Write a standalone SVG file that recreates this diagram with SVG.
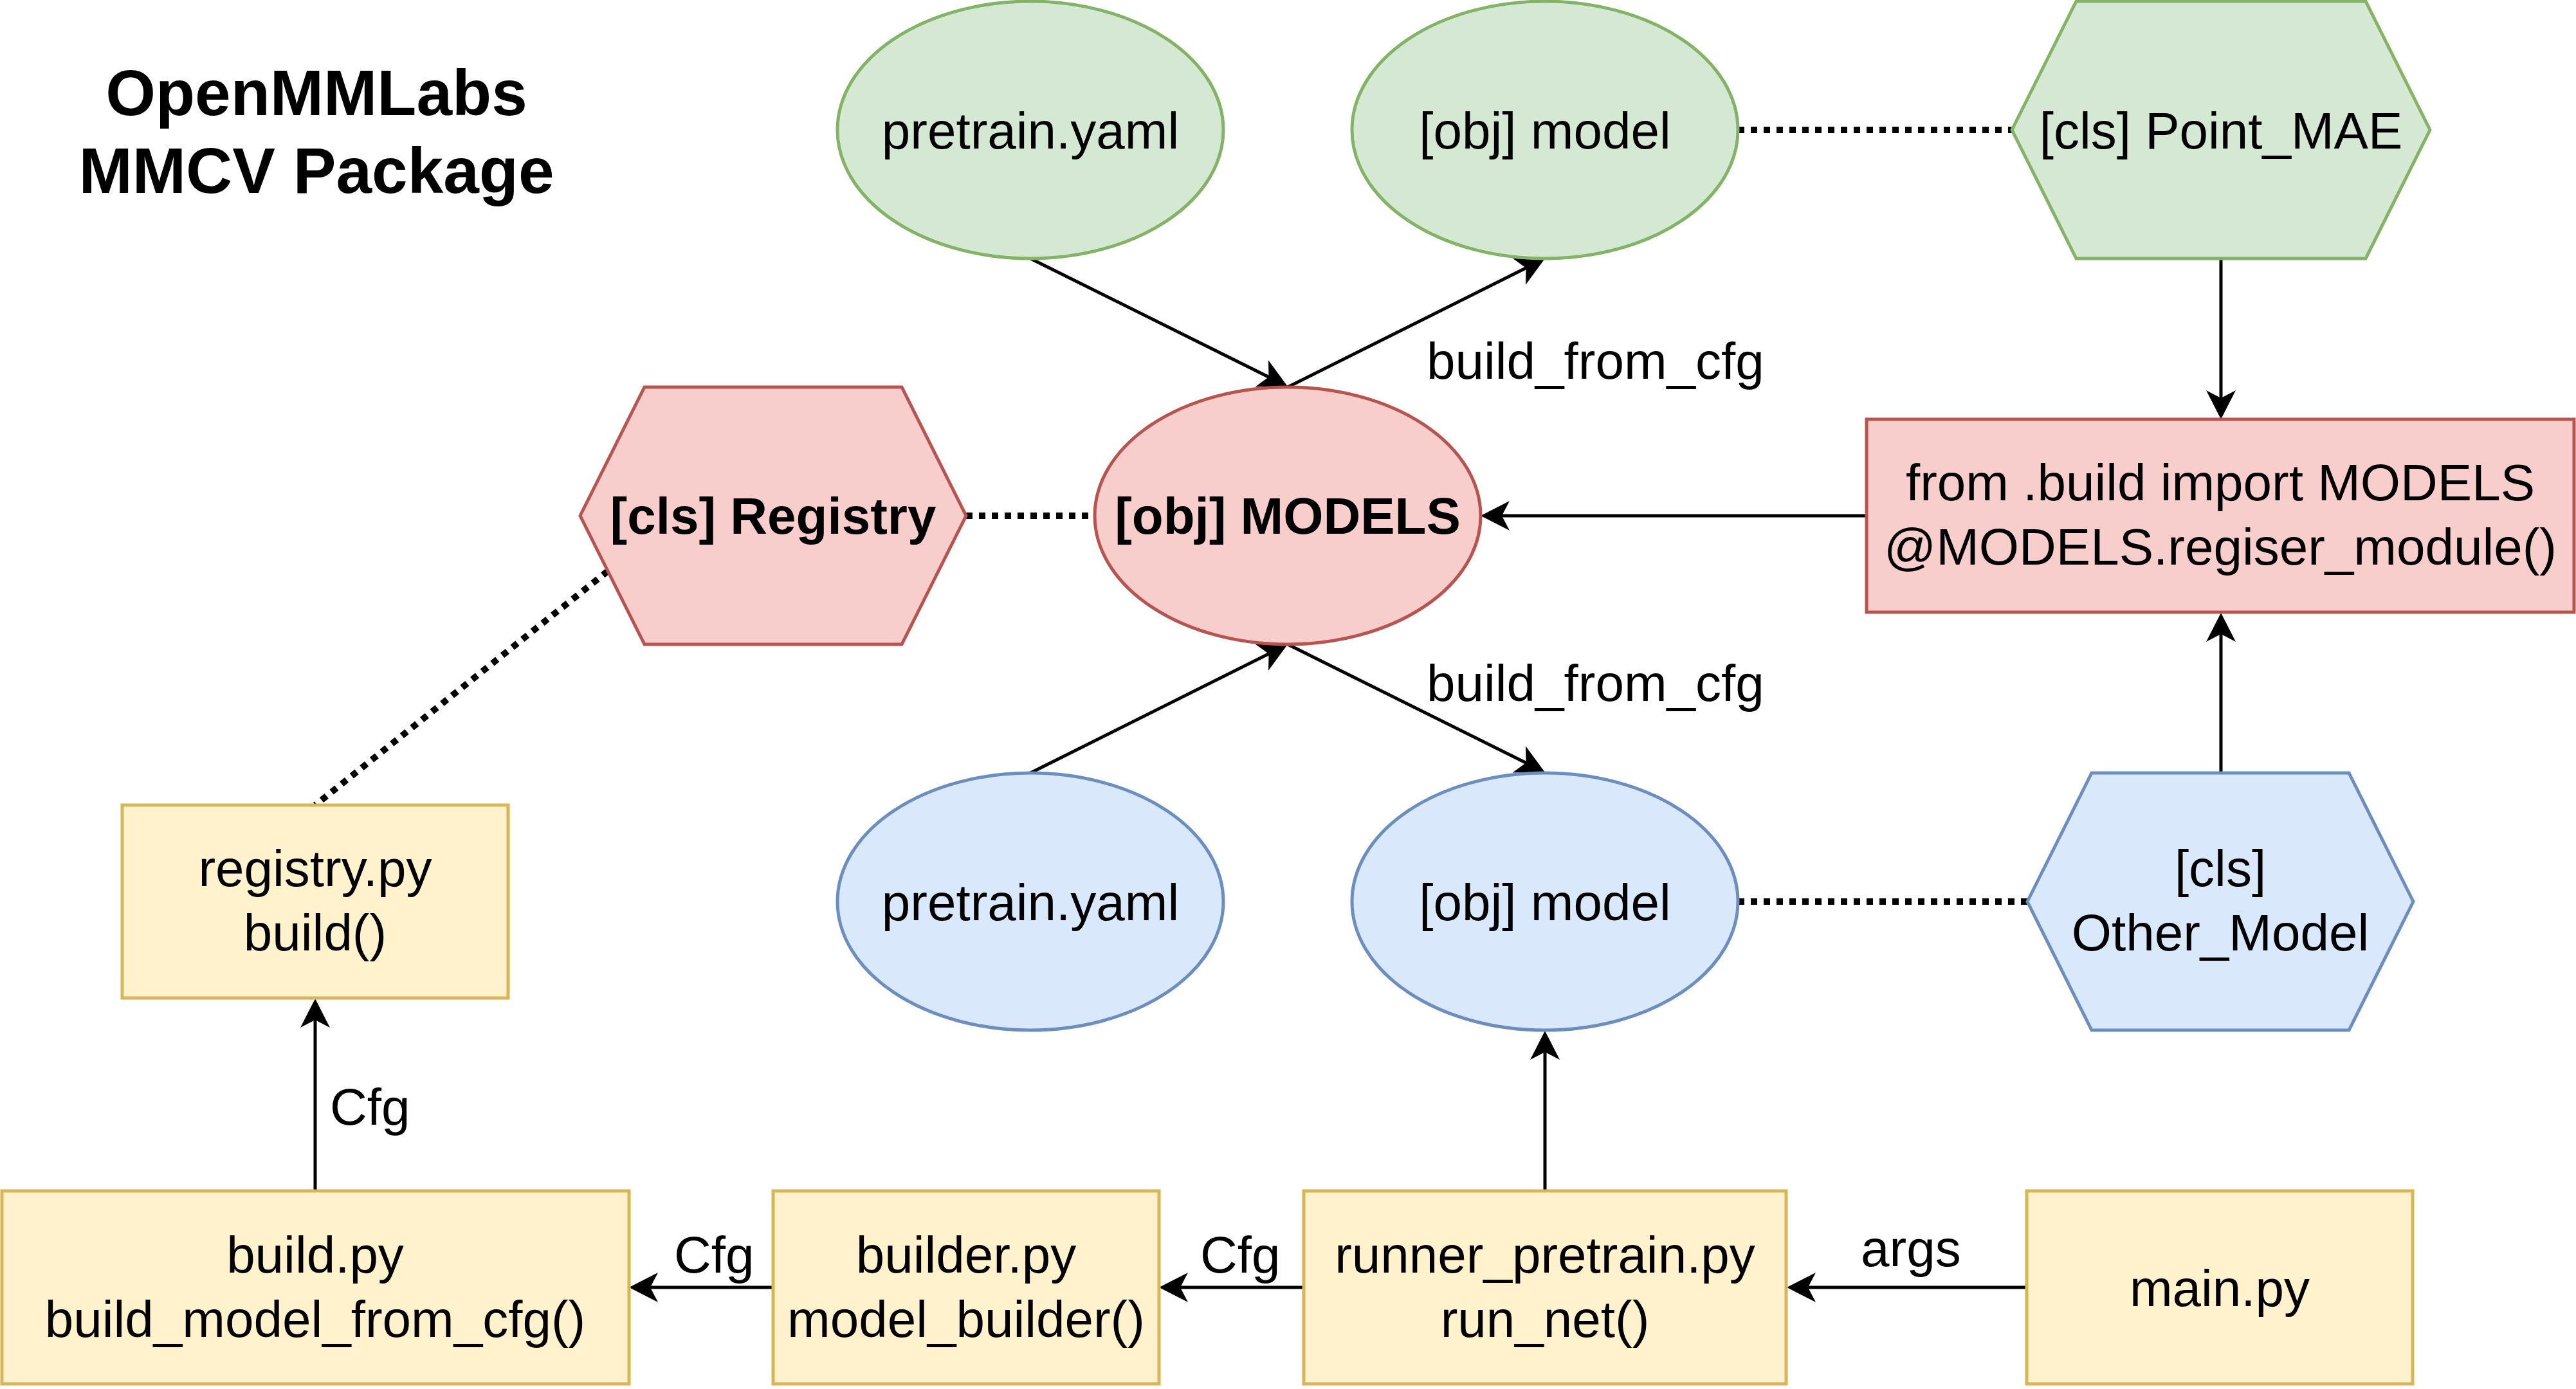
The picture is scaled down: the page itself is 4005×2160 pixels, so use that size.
<svg xmlns="http://www.w3.org/2000/svg" width="4005" height="2160" viewBox="0 0 4005 2160">
<style>
text{font-family:"Liberation Sans",Arial,Helvetica,sans-serif;font-size:80px;fill:#000}
.c{text-anchor:middle}
.b{font-weight:bold}
.t{font-size:100px;font-weight:bold;text-anchor:middle}
.green{fill:#d5e8d4;stroke:#82b366;stroke-width:5}
.red{fill:#f8cecc;stroke:#b85450;stroke-width:5}
.blue{fill:#dae8fc;stroke:#6c8ebf;stroke-width:5}
.yellow{fill:#fff2cc;stroke:#d6b656;stroke-width:5}
.edge{fill:none;stroke:#000;stroke-width:5;marker-end:url(#arr)}
.dot{fill:none;stroke:#000;stroke-width:10;stroke-dasharray:10 10}
</style>
<defs>
<marker id="arr" markerUnits="userSpaceOnUse" viewBox="-20 -30 60 60" refX="0" refY="0" markerWidth="60" markerHeight="60" orient="auto">
<path d="M32,0 L-13,-23 L-1,0 L-13,23 Z" fill="#000"/>
</marker>
</defs>
<rect width="4005" height="2160" fill="#fff"/>
<g id="title">
<text class="t" x="492" y="179">OpenMMLabs</text>
<text class="t" x="492" y="300">MMCV Package</text>
</g>
<g id="connectors">
<line class="edge" x1="1602" y1="402" x2="1973.4" y2="586.7"/>
<line class="edge" x1="2002" y1="602" x2="2373.4" y2="416.3"/>
<line class="edge" x1="1602" y1="1202" x2="1973.4" y2="1016.3"/>
<line class="edge" x1="2002" y1="1002" x2="2373.4" y2="1186.7"/>
<line class="edge" x1="3453" y1="402" x2="3453" y2="620"/>
<line class="edge" x1="2902" y1="802" x2="2334" y2="802"/>
<line class="edge" x1="3453" y1="1202" x2="3453" y2="985"/>
<line class="edge" x1="2402" y1="1852" x2="2402" y2="1635"/>
<line class="edge" x1="3151" y1="2002" x2="2810" y2="2002"/>
<line class="edge" x1="2027" y1="2002" x2="1834" y2="2002"/>
<line class="edge" x1="1202" y1="2002" x2="1010" y2="2002"/>
<line class="edge" x1="490" y1="1852" x2="490" y2="1585"/>
<line class="dot" x1="1502" y1="802" x2="1702" y2="802"/>
<line class="dot" x1="2702" y1="202" x2="3128" y2="202"/>
<line class="dot" x1="2702" y1="1402" x2="3152" y2="1402"/>
<line class="dot" x1="945" y1="888" x2="490" y2="1252"/>
<text x="2218" y="589">build_from_cfg</text>
<text x="2218" y="1090">build_from_cfg</text>
<text x="513" y="1749">Cfg</text>
<text x="1048" y="1979">Cfg</text>
<text x="1866" y="1979">Cfg</text>
<text x="2893" y="1969">args</text>
</g>
<g id="pretrain_green">
<ellipse class="green" cx="1602" cy="202" rx="300" ry="200"/>
<text class="c" x="1602" y="231">pretrain.yaml</text>
</g>
<g id="model_green">
<ellipse class="green" cx="2402" cy="202" rx="300" ry="200"/>
<text class="c" x="2402" y="231">[obj] model</text>
</g>
<g id="point_mae">
<polygon class="green" points="3128,202 3228,2 3678,2 3778,202 3678,402 3228,402"/>
<text class="c" x="3453" y="231">[cls] Point_MAE</text>
</g>
<g id="registry_cls">
<polygon class="red" points="902,802 1002,602 1402,602 1502,802 1402,1002 1002,1002"/>
<text class="c b" x="1202" y="830">[cls] Registry</text>
</g>
<g id="models">
<ellipse class="red" cx="2002" cy="802" rx="300" ry="200"/>
<text class="c b" x="2002" y="830">[obj] MODELS</text>
</g>
<g id="build_import">
<rect class="red" x="2902" y="652" width="1100" height="300"/>
<text class="c" x="3452" y="778">from .build import MODELS</text>
<text class="c" x="3452" y="878">@MODELS.regiser_module()</text>
</g>
<g id="pretrain_blue">
<ellipse class="blue" cx="1602" cy="1402" rx="300" ry="200"/>
<text class="c" x="1602" y="1431">pretrain.yaml</text>
</g>
<g id="model_blue">
<ellipse class="blue" cx="2402" cy="1402" rx="300" ry="200"/>
<text class="c" x="2402" y="1431">[obj] model</text>
</g>
<g id="other_model">
<polygon class="blue" points="3152,1402 3252,1202 3652,1202 3752,1402 3652,1602 3252,1602"/>
<text class="c" x="3452" y="1378">[cls]</text>
<text class="c" x="3452" y="1478">Other_Model</text>
</g>
<g id="registry_py">
<rect class="yellow" x="190" y="1252" width="600" height="300"/>
<text class="c" x="490" y="1378">registry.py</text>
<text class="c" x="490" y="1478">build()</text>
</g>
<g id="build_py">
<rect class="yellow" x="3" y="1852" width="975" height="300"/>
<text class="c" x="490" y="1979">build.py</text>
<text class="c" x="490" y="2079">build_model_from_cfg()</text>
</g>
<g id="builder_py">
<rect class="yellow" x="1202" y="1852" width="600" height="300"/>
<text class="c" x="1502" y="1979">builder.py</text>
<text class="c" x="1502" y="2079">model_builder()</text>
</g>
<g id="runner_pretrain">
<rect class="yellow" x="2027" y="1852" width="750" height="300"/>
<text class="c" x="2402" y="1979">runner_pretrain.py</text>
<text class="c" x="2402" y="2079">run_net()</text>
</g>
<g id="main_py">
<rect class="yellow" x="3151" y="1852" width="600" height="300"/>
<text class="c" x="3451" y="2031">main.py</text>
</g>
</svg>
